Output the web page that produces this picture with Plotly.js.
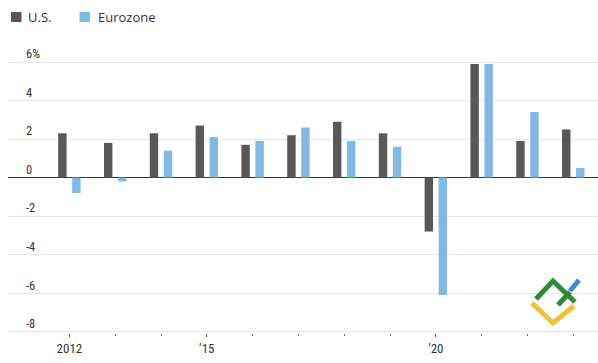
<!DOCTYPE html>
<html>
<head>
<meta charset="utf-8">
<script src="https://cdn.plot.ly/plotly-3.0.1.min.js"></script>
<style>html,body{margin:0;padding:0;background:#fff;}#chart{width:598px;height:363px;}</style>
</head>
<body>
<div id="chart"></div>
<script>
const years = [2012, 2013, 2014, 2015, 2016, 2017, 2018, 2019, 2020, 2021, 2022, 2023];
const usGrowth = [2.3, 1.8, 2.3, 2.7, 1.7, 2.2, 2.9, 2.3, -2.8, 5.9, 1.9, 2.5];
const euroGrowth = [-0.8, -0.2, 1.4, 2.1, 1.9, 2.6, 1.9, 1.6, -6.1, 5.9, 3.4, 0.5];
const seriesNames = ['U.S.', 'Eurozone'];
const seriesColors = ['#585858', '#7fb9e6'];
const xTickVals = [2012, 2015, 2020];
const xTickText = ['2012', '\u201915', '\u201920'];
const yTickVals = [-8, -6, -4, -2, 0, 2, 4, 6];
const yTickText = ['-8', '-6', '-4', '-2', '0', '2', '4', '6%'];

const W = 598, H = 363;
const M = {l: 8, r: 0, t: 42, b: 30};
function px2paper(p) {
  return [(p[0] - M.l) / (W - M.l - M.r), (H - M.b - p[1]) / (H - M.t - M.b)];
}
// watermark logo strokes (page pixel coordinates)
const logoStrokes = [
  {pts: [[532, 303], [553, 323], [574, 306]], color: '#f0c037'},
  {pts: [[536, 299], [553, 281], [575, 302]], color: '#2e8b3a'},
  {pts: [[558, 305], [570, 292]], color: '#2e8b3a'},
  {pts: [[570, 291], [579, 280]], color: '#3a8ee0'}
];
const shapes = logoStrokes.map(s => {
  const pp = s.pts.map(px2paper);
  const d = pp.map((p, i) => (i ? 'L' : 'M') + p[0].toFixed(4) + ',' + p[1].toFixed(4)).join(' ');
  return {type: 'path', xref: 'paper', yref: 'paper', path: d,
          line: {color: s.color, width: 5}, layer: 'above'};
});

// custom legend (square + label)
const legendPos = [{sq: 11, tx: 26}, {sq: 79.5, tx: 96}];
const annotations = [];
seriesNames.forEach((nm, i) => {
  const a = px2paper([legendPos[i].sq, 12]);
  const b = px2paper([legendPos[i].sq + 10.5, 22]);
  shapes.push({type: 'rect', xref: 'paper', yref: 'paper', x0: a[0], x1: b[0], y0: b[1], y1: a[1],
               fillcolor: seriesColors[i], line: {width: 0}});
  const t = px2paper([legendPos[i].tx, 17]);
  annotations.push({xref: 'paper', yref: 'paper', x: t[0], y: t[1], xanchor: 'left', yanchor: 'middle',
                    text: nm, showarrow: false, font: {family: '"Open Sans", sans-serif', size: 13, color: '#333'}});
});

const traces = [
  {type: 'bar', x: years, y: usGrowth, name: seriesNames[0],
   marker: {color: seriesColors[0], line: {width: 0}}, hoverinfo: 'skip'},
  {type: 'bar', x: years, y: euroGrowth, name: seriesNames[1],
   marker: {color: seriesColors[1], line: {width: 0}}, hoverinfo: 'skip'}
];

const narrow = '"Liberation Sans Narrow", "Arial Narrow", "Roboto Condensed", "Liberation Sans", sans-serif';
const layout = {
  width: W, height: H,
  margin: M,
  paper_bgcolor: '#fff', plot_bgcolor: '#fff',
  font: {family: narrow, size: 12, color: '#333'},
  barmode: 'group', bargap: 0.388, bargroupgap: 0.4,
  showlegend: false,
  xaxis: {range: [2010.66, 2023.54], showgrid: false, zeroline: false, showline: false,
          tickmode: 'array', tickvals: xTickVals, ticktext: xTickText,
          ticks: 'outside', ticklen: 3, tickwidth: 1, tickcolor: '#555',
          minor: {tickmode: 'array', tickvals: years, ticks: 'outside', ticklen: 2, tickcolor: '#666', showgrid: false},
          tickfont: {family: narrow, size: 13, color: '#333'}, fixedrange: true},
  yaxis: {range: [-8.07, 7.04], tickmode: 'array', tickvals: yTickVals, ticktext: yTickText,
          showgrid: true, gridcolor: '#e6e6e6', gridwidth: 1,
          zeroline: true, zerolinecolor: '#333', zerolinewidth: 1,
          showline: false, ticks: '',
          ticklabelposition: 'inside', ticklabelshift: -8, ticklabelstandoff: 15,
          tickfont: {family: narrow, size: 12.5, color: '#333'}, fixedrange: true},
  shapes: shapes,
  annotations: annotations
};

Plotly.newPlot('chart', traces, layout, {displayModeBar: false, staticPlot: true});
</script>
</body>
</html>
